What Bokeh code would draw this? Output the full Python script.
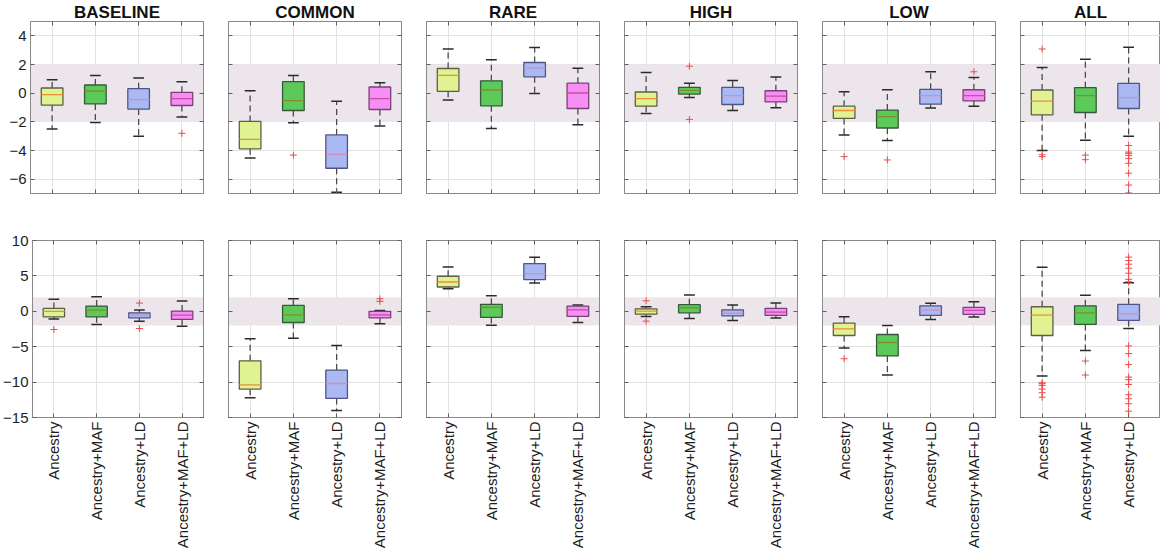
import math
from bokeh.plotting import figure
from bokeh.layouts import row, column
from bokeh.models import FixedTicker, LinearAxis, BoxAnnotation, ColumnDataSource, Range1d
from bokeh.embed import file_html
from bokeh.resources import INLINE

# ---------------- data ----------------
panels = ["BASELINE", "COMMON", "RARE", "HIGH", "LOW", "ALL"]
methods = ["Ancestry", "Ancestry+MAF", "Ancestry+LD", "Ancestry+MAF+LD"]

band_lo, band_hi = -2, 2

top_ticks = [-6, -4, -2, 0, 2, 4]
top_ylim = (-7, 5)
bot_ticks = [-15, -10, -5, 0, 5, 10]
bot_ylim = (-15, 10)

# top row
top_lo = [[-2.5, -2.04, -3.0, -1.67], [-4.53, -2.06, -6.92, -2.29], [-0.47, -2.47, -0.03, -2.2],
          [-1.42, -0.31, -1.21, -1.02], [-2.91, -3.3, -1.04, -0.91], [-4.0, -3.28, -3.0]]
top_q1 = [[-0.84, -0.75, -1.11, -0.86], [-3.88, -1.21, -5.24, -1.14], [0.13, -0.88, 1.14, -1.07],
          [-0.91, -0.06, -0.79, -0.61], [-1.76, -2.43, -0.77, -0.54], [-1.51, -1.35, -1.07]]
top_med = [[-0.1, 0.15, -0.45, -0.38], [-3.23, -0.52, -4.27, -0.38], [1.24, 0.22, 1.76, 0.01],
           [-0.38, 0.2, -0.17, -0.21], [-1.21, -1.64, -0.17, -0.17], [-0.56, -0.17, -0.31]]
top_q3 = [[0.36, 0.57, 0.31, 0.06], [-1.97, 0.8, -2.91, 0.43], [1.72, 0.86, 2.14, 0.7],
          [0.08, 0.41, 0.41, 0.17], [-0.91, -1.18, 0.27, 0.24], [0.22, 0.38, 0.68]]
top_hi = [[0.93, 1.24, 1.05, 0.8], [0.17, 1.24, -0.56, 0.73], [3.08, 2.34, 3.19, 1.74],
          [1.44, 0.7, 0.89, 1.12], [0.1, 0.24, 1.49, 1.1], [1.79, 2.36, 3.21]]
top_out = [[[], [], [], [-2.8]],
           [[], [-4.32], [], []],
           [[], [], [], []],
           [[], [1.88, -1.83], [], []],
           [[-4.43], [-4.66], [], [1.49]],
           [[3.08, -4.3, -4.43], [-4.32, -4.64],
            [-3.65, -4.11, -4.2, -4.34, -4.57, -4.89, -5.58, -6.41, -6.96]]]

# bottom row
bot_lo = [[-1.1, -1.86, -1.39, -2.1], [-12.2, -3.8, -14.0, -1.77], [3.19, -1.96, 4.0, -1.58],
          [-0.73, -1.0, -1.29, -0.96], [-5.2, -9.0, -1.15, -0.82], [-9.15, -5.55, -2.43]]
bot_q1 = [[-0.78, -0.78, -0.92, -1.15], [-11.0, -1.58, -12.3, -0.92], [3.43, -0.87, 4.47, -0.73],
          [-0.4, -0.21, -0.64, -0.58], [-3.42, -6.3, -0.58, -0.44], [-3.42, -1.86, -1.29]]
bot_med = [[0.0, 0.17, -0.54, -0.54], [-10.4, -0.5, -10.2, -0.5], [4.14, 0.55, 5.32, 0.21],
           [0.03, 0.5, -0.26, -0.11], [-2.48, -4.41, 0.17, 0.13], [-0.54, -0.21, -0.35]]
bot_q3 = [[0.41, 0.74, -0.21, 0.03], [-7.0, 0.83, -8.3, 0.0], [4.95, 0.98, 6.74, 0.74],
          [0.35, 0.93, 0.21, 0.41], [-1.67, -3.28, 0.78, 0.55], [0.64, 0.78, 0.98]]
bot_hi = [[1.69, 2.06, 0.2, 1.45], [-3.86, 1.77, -4.84, 0.1], [6.27, 2.2, 7.64, 0.88],
          [0.64, 2.3, 0.88, 1.16], [-0.78, -2.0, 1.12, 1.35], [6.23, 2.25, 4.04]]
bot_out = [[[-2.57], [], [1.16, -2.43], []],
           [[], [], [], [1.77, 1.4]],
           [[], [], [], []],
           [[1.49, -1.39], [], [], []],
           [[-6.7], [], [], []],
           [[-10.09, -10.23, -10.47, -10.99, -11.5, -12.13], [-7.02, -9.0],
            [7.65, 7.16, 6.65, 6.09, 5.38, 4.52, 4.18, -4.89, -5.97, -7.53, -9.29, -9.66,
             -10.33, -11.79, -12.36, -13.06, -14.11]]]

# ---------------- style ----------------
FONT = "Liberation Sans"
fills = ["#e0f291", "#5cc95a", "#aab9f3", "#f68ef4"]
edges = ["#5e5e45", "#35593a", "#4f5585", "#7a4079"]
meds = ["#e8903a", "#7f8f2c", "#cf8fb8", "#c44fa6"]
band_color = "#ece6ec"
frame_color = "#8a8a8a"
grid_color = "#e2e2e2"
text_color = "#1e1e1e"

BOX_W = 0.5
CAP_W = 0.25
FRAME_W = 173


def style_axis(ax, ticks, show_labels):
    ax.ticker = FixedTicker(ticks=ticks)
    ax.major_tick_in = 4
    ax.major_tick_out = 0
    ax.minor_tick_line_color = None
    ax.axis_line_color = frame_color
    ax.major_tick_line_color = "#606060"
    ax.major_label_text_font = FONT
    if show_labels:
        ax.major_label_text_color = text_color
        ax.major_label_text_font_size = "15px"
        ax.major_label_standoff = 4
    else:
        ax.major_label_text_color = None
        ax.major_label_text_font_size = "1px"
        ax.major_label_standoff = 0


def make_panel(ci, is_top):
    first = ci == 0
    last = ci == len(panels) - 1
    left_b = 30 if first else 12
    right_b = 0 if last else 13
    fw = 140 if last else FRAME_W
    width = left_b + fw + right_b
    x_end = 0.5 + 4 * fw / FRAME_W
    if is_top:
        height, top_b, bot_b = 216, 19, 23
        ylim, yt = top_ylim, top_ticks
        lo, q1, md, q3, hi, out = top_lo, top_q1, top_med, top_q3, top_hi, top_out
    else:
        height, top_b, bot_b = 344, 24, 143
        ylim, yt = bot_ylim, bot_ticks
        lo, q1, md, q3, hi, out = bot_lo, bot_q1, bot_med, bot_q3, bot_hi, bot_out

    p = figure(width=width, height=height, x_range=Range1d(0.5, x_end),
               y_range=Range1d(*ylim), toolbar_location=None, output_backend="svg",
               min_border_left=left_b, min_border_right=right_b,
               min_border_top=top_b, min_border_bottom=bot_b,
               outline_line_color=frame_color, outline_line_width=1,
               background_fill_color="white", border_fill_color="white")
    xt = [1, 2, 3, 4]
    style_axis(p.xaxis[0], xt, not is_top)
    if not is_top:
        p.xaxis[0].major_label_overrides = {i + 1: m for i, m in enumerate(methods)}
        p.xaxis[0].major_label_orientation = math.pi / 2
    style_axis(p.yaxis[0], yt, first)

    ab = LinearAxis()
    style_axis(ab, xt, False)
    p.add_layout(ab, "above")
    if not last:
        rt = LinearAxis()
        style_axis(rt, yt, False)
        p.add_layout(rt, "right")

    p.xgrid.ticker = FixedTicker(ticks=xt)
    p.ygrid.ticker = FixedTicker(ticks=yt)
    p.xgrid.grid_line_color = grid_color
    p.ygrid.grid_line_color = grid_color

    if is_top:
        p.title.text = panels[ci]
        p.title.align = "center"
        p.title.text_font = FONT
        p.title.text_font_style = "bold"
        p.title.text_font_size = "17px"
        p.title.text_color = "#111111"
        try:
            p.title.standoff = 0
        except Exception:
            pass

    p.add_layout(BoxAnnotation(bottom=band_lo, top=band_hi, fill_color=band_color,
                               fill_alpha=1, line_color=None, level="underlay"))

    n = len(md[ci])
    xs = [i + 1 for i in range(n)]
    src = ColumnDataSource(dict(
        x=xs, lo=lo[ci], q1=q1[ci], md=md[ci], q3=q3[ci], hi=hi[ci],
        xl=[x - BOX_W / 2 for x in xs], xr=[x + BOX_W / 2 for x in xs],
        cl=[x - CAP_W / 2 for x in xs], cr=[x + CAP_W / 2 for x in xs],
        fill=fills[:n], edge=edges[:n], medc=meds[:n]))
    p.segment(x0="x", y0="q3", x1="x", y1="hi", source=src, line_color="#4a4a4a",
              line_width=1.3, line_dash="6 4")
    p.segment(x0="x", y0="q1", x1="x", y1="lo", source=src, line_color="#4a4a4a",
              line_width=1.3, line_dash="6 4")
    p.segment(x0="cl", y0="hi", x1="cr", y1="hi", source=src, line_color="#2a2a2a", line_width=1.5)
    p.segment(x0="cl", y0="lo", x1="cr", y1="lo", source=src, line_color="#2a2a2a", line_width=1.5)
    p.vbar(x="x", width=BOX_W, top="q3", bottom="q1", source=src, fill_color="fill",
           line_color="edge", line_width=1.3)
    p.segment(x0="xl", y0="md", x1="xr", y1="md", source=src, line_color="medc", line_width=1.3)

    ox, oy = [], []
    for i, vals in enumerate(out[ci]):
        for v in vals:
            ox.append(i + 1)
            oy.append(v)
    if ox:
        p.scatter(x=ox, y=oy, marker="cross", size=7, line_color="#f04848", line_width=1)
    return p


top_row = row([make_panel(i, True) for i in range(len(panels))], spacing=0)
bot_row = row([make_panel(i, False) for i in range(len(panels))], spacing=0)
layout = column([top_row, bot_row], spacing=0)

open("out.html", "w").write(file_html(layout, INLINE))
